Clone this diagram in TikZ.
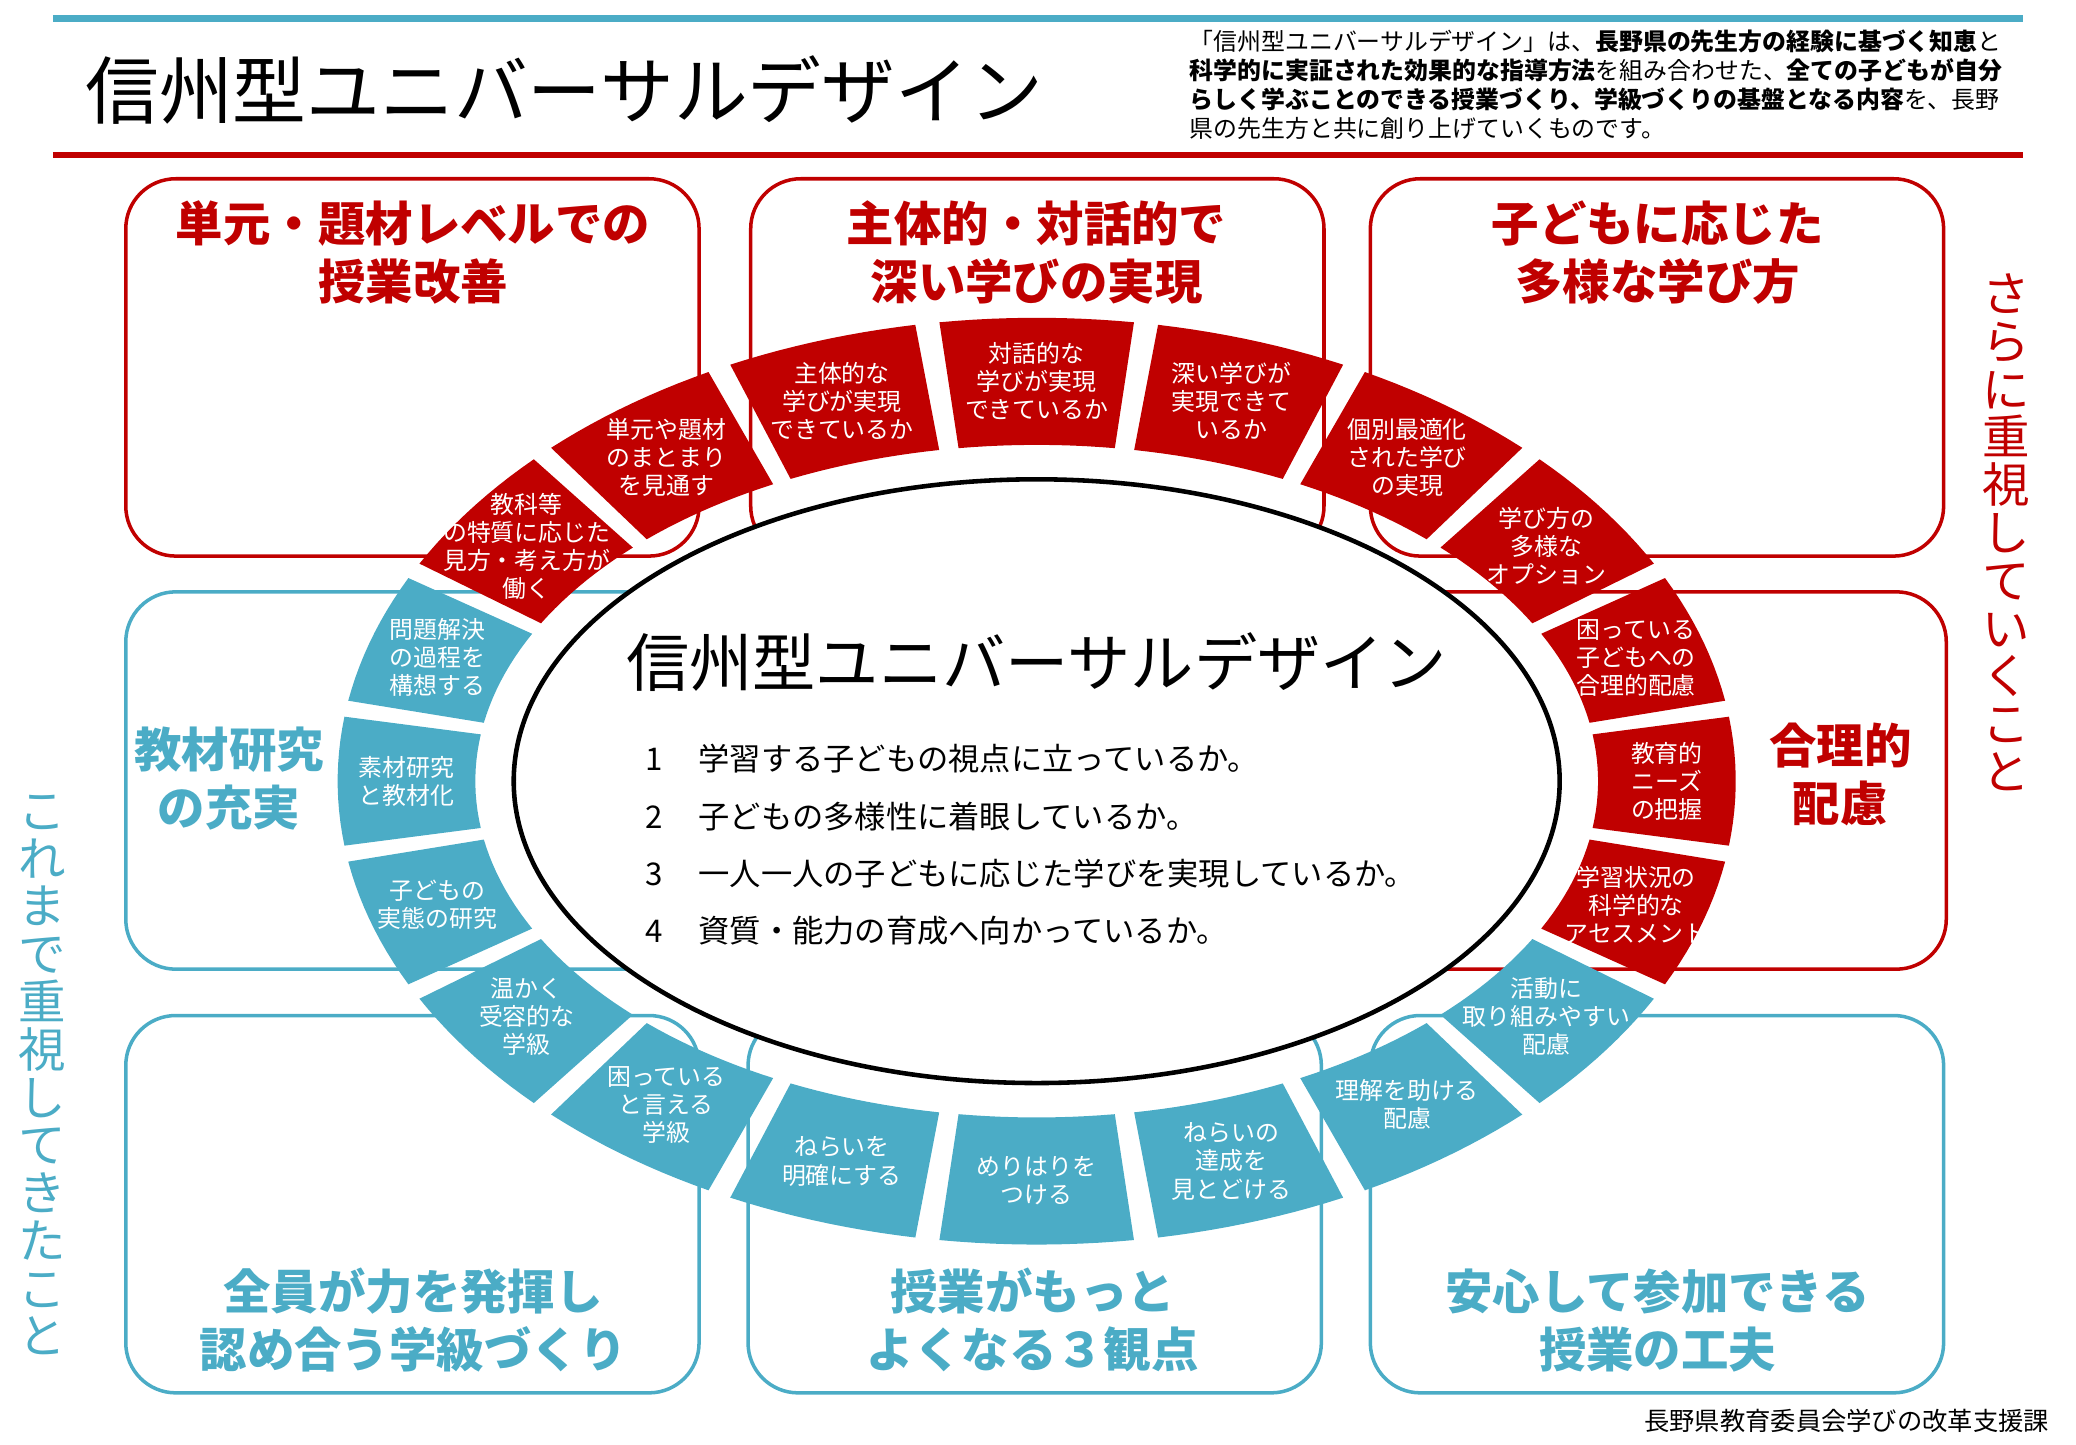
\documentclass[tikz,border=0pt]{standalone}
\usepackage{fontspec}
\setmainfont{Noto Sans CJK JP}
\definecolor{udred}{HTML}{C00000}
\definecolor{udteal}{HTML}{4BACC6}
\tikzset{%
  every box/.style={
    line width=1pt,
    rounded corners=0.5cm
  },
  box title/.style={
    font=\fontsize{13.5pt}{16.5pt}\selectfont\bfseries,
    align=center
  },
  seg text/.style={
    text=white,
    align=center,
    font=\fontsize{6.8pt}{8pt}\selectfont
  },
  side text/.style={
    align=center,
    font=\fontsize{13.5pt}{13.6pt}\selectfont
  },
}
\newcommand{\cx}{783}
\newcommand{\cy}{590}

\begin{document}
\begin{tikzpicture}[x=0.01324cm, y=-0.01324cm]
\useasboundingbox (0,0) rectangle (1568,1091);

% header
\draw [udteal, line width=1.9pt] (40,14) -- (1528,14);
\draw [udred, line width=1.9pt] (40,117) -- (1528,117);
\node [anchor=west, font=\fontsize{21pt}{24pt}\selectfont] (title) at (55,68)
  {信州型ユニバーサルデザイン};
\node [anchor=north west, align=left, inner sep=0pt,
  font=\fontsize{6.8pt}{8.3pt}\selectfont] (intro) at (898,22)
  {「信州型ユニバーサルデザイン」は、\textbf{長野県の先生方の経験に基づく知恵}と\\
   \textbf{科学的に実証された効果的な指導方法}を組み合わせた、\textbf{全ての子どもが自分}\\
   \textbf{らしく学ぶことのできる授業づくり、学級づくりの基盤となる内容}を、長野\\
   県の先生方と共に創り上げていくものです。};

% boxes
\draw [every box, udred] (95,135) rectangle (528,420);
\draw [every box, udred] (567,135) rectangle (1000,420);
\draw [every box, udred] (1035,135) rectangle (1468,420);
\draw [every box, udteal] (95,447) rectangle (520,732);
\draw [every box, udred] (1045,447) rectangle (1470,732);
\draw [every box, udteal] (95,767) rectangle (528,1052);
\draw [every box, udteal] (565,767) rectangle (998,1052);
\draw [every box, udteal] (1035,767) rectangle (1468,1052);

\node [box title, udred] (t-unit) at (312,191) {単元・題材レベルでの\\授業改善};
\node [box title, udred] (t-deep) at (783,191) {主体的・対話的で\\深い学びの実現};
\node [box title, udred] (t-ways) at (1252,191) {子どもに応じた\\多様な学び方};
\node [box title, udteal] (t-mat) at (173,588) {教材研究\\の充実};
\node [box title, udred] (t-care) at (1390,585) {合理的\\配慮};
\node [box title, udteal] (t-class) at (312,997) {全員が力を発揮し\\認め合う学級づくり};
\node [box title, udteal] (t-three) at (780,997) {授業がもっと\\よくなる３観点};
\node [box title, udteal] (t-safe) at (1252,997) {安心して参加できる\\授業の工夫};

% ring
\foreach \a/\c/\t [count=\i] in {
  108/udred/{主体的な\\学びが実現\\できているか},
  90/udred/{対話的な\\学びが実現\\できているか},
  72/udred/{深い学びが\\実現できて\\いるか},
  54/udred/{個別最適化\\された学び\\の実現},
  36/udred/{学び方の\\多様な\\オプション},
  18/udred/{困っている\\子どもへの\\合理的配慮},
  0/udred/{教育的\\ニーズ\\の把握},
  -18/udred/{学習状況の\\科学的な\\アセスメント},
  -36/udteal/{活動に\\取り組みやすい\\配慮},
  -54/udteal/{理解を助ける\\配慮},
  -72/udteal/{ねらいの\\達成を\\見とどける},
  -90/udteal/{めりはりを\\つける},
  -108/udteal/{ねらいを\\明確にする},
  -126/udteal/{困っている\\と言える\\学級},
  -144/udteal/{温かく\\受容的な\\学級},
  -162/udteal/{子どもの\\実態の研究},
  180/udteal/{素材研究\\と教材化},
  162/udteal/{問題解決\\の過程を\\構想する},
  144/udred/{教科等\\の特質に応じた\\見方・考え方が\\働く},
  126/udred/{単元や題材\\のまとまり\\を見通す}}
{
  \fill [\c] plot [domain=\a-8:\a+8, samples=12] ({\cx+528*cos(\x)},{\cy-350*sin(\x)})
    -- plot [domain=\a+8:\a-8, samples=12] ({\cx+424*cos(\x)},{\cy-254*sin(\x)}) -- cycle;
  \node [seg text] (seg-\i) at ({\cx+476*cos(\a)},{\cy-302*sin(\a)}) {\t};
}

% centre
\coordinate (core) at (\cx,\cy);
\draw [fill=white, line width=1.3pt] (core) ellipse [x radius=395, y radius=228];
\node [font=\fontsize{18pt}{20pt}\selectfont] (core-title) at (783,500) {信州型ユニバーサルデザイン};
\foreach \l [count=\y] in {学習する子どもの視点に立っているか。,
    子どもの多様性に着眼しているか。,
    一人一人の子どもに応じた学びを実現しているか。,
    資質・能力の育成へ向かっているか。}
  \node [anchor=west, font=\fontsize{8.9pt}{10pt}\selectfont] (point-\y)
    at (478,530+\y*43.3) {\y\hspace{1.15em}\l};

% side notes
\node [side text, udred] (side-more) at (1515,402)
  {さ\\ら\\に\\重\\視\\し\\て\\い\\く\\こ\\と};
\node [side text, udteal] (side-past) at (32,812)
  {こ\\れ\\ま\\で\\重\\視\\し\\て\\き\\た\\こ\\と};
\node [anchor=east, font=\fontsize{7.2pt}{8pt}\selectfont] (office) at (1557,1073)
  {長野県教育委員会学びの改革支援課};
\end{tikzpicture}
\end{document}
